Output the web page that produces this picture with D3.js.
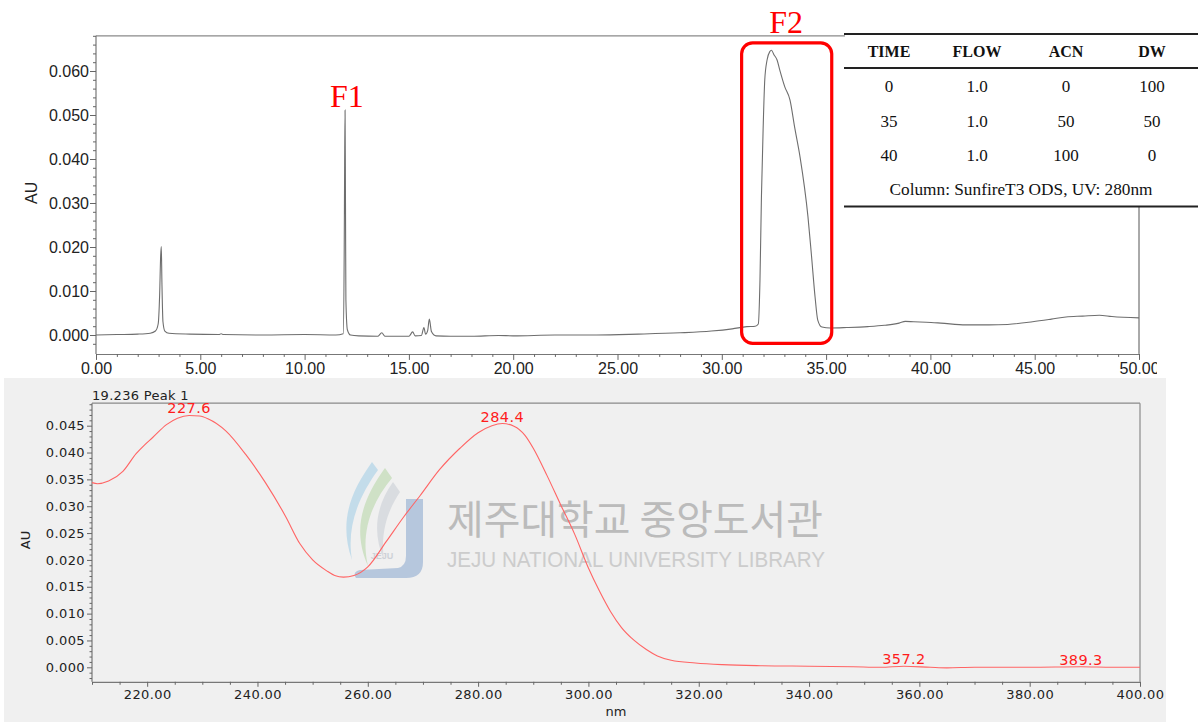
<!DOCTYPE html>
<html><head><meta charset="utf-8">
<script src="https://cdn.jsdelivr.net/npm/d3@7"></script>
<style>
body{margin:0;background:#fff;}
svg{display:block;}
</style></head><body>
<svg id="c" width="1198" height="722"></svg>
<script>
// ---------- DATA ----------
const chromTime = [0,1,2,2.6,2.85,2.98,3.05,3.10,3.13,3.16,
  3.21,3.3,3.5,4.5,5.9,6.0,6.1,8,10,11.5,
  11.85,11.9,11.92,11.94,11.96,11.98,12.05,12.2,12.6,13.5,
  13.7,13.85,15.0,15.18,15.3,15.6,15.72,15.8,15.9,15.98,
  16.08,16.3,17,18,19.3,20,22,24,26,28,
  29.5,30.5,31.2,31.6,31.75,31.83,31.9,31.98,32.06,32.17,
  32.3,32.38,32.5,32.65,32.78,33.02,33.27,33.5,33.75,34.13,
  34.3,34.47,34.6,34.8,35.2,36,37,37.8,38.5,38.8,
  39.2,39.8,40.5,41.7,42.8,43.7,44.9,45.8,46.5,47.3,
  48.1,48.7,50];
const chromAU = [0.0000,0.0001,0.0002,0.0004,0.0009,0.0025,0.0090,0.0180,0.0201,0.0120,
  0.0030,0.0009,0.0004,0.0002,0.0001,0.0003,0.0001,0.0000,0.0001,0.0000,
  0.0003,0.0200,0.0386,0.0511,0.0300,0.0080,0.0012,0.0000,-0.0002,-0.0003,
  0.0005,-0.0003,-0.0003,0.0007,-0.0002,-0.0001,0.0017,0.0002,0.0010,0.0036,
  0.0008,-0.0002,-0.0003,-0.0003,-0.0001,-0.0002,0.0000,0.0000,0.0002,0.0005,
  0.0009,0.0014,0.0019,0.0020,0.0025,0.0125,0.0314,0.0466,0.0580,0.0625,
  0.0644,0.0647,0.0637,0.0625,0.0602,0.0564,0.0534,0.0470,0.0405,0.0269,
  0.0180,0.0087,0.0034,0.0018,0.0016,0.0017,0.0019,0.0022,0.0027,0.0031,
  0.0030,0.0029,0.0027,0.0023,0.0023,0.0024,0.0030,0.0036,0.0041,0.0043,
  0.0045,0.0042,0.0039];

const specNm = [210,211,213,215.6,218,219.5,221,223.5,225.5,227.6,
  229.5,231,234.3,237.9,241.5,245.1,247.7,250,252.5,254,
  255.6,257.5,260,263.4,266.5,269.5,273,276.7,280,282.5,
  284.4,286.5,288.5,290,292.5,295,297.5,300,302,304,
  306,308.3,310.5,312.5,315,319.4,324.3,331.2,340,348,
  353,357.2,362,365,370,380,389.3,395,400];
const specAU = [0.0344,0.0342,0.0347,0.0365,0.0398,0.0414,0.0428,0.0452,0.0464,0.0469,
  0.0468,0.0463,0.0440,0.0396,0.0343,0.0281,0.0230,0.0200,0.0180,0.0171,
  0.0168,0.0171,0.0187,0.0235,0.0280,0.0320,0.0368,0.0408,0.0437,0.0450,
  0.0454,0.0449,0.0432,0.0408,0.0357,0.0302,0.0248,0.0185,0.0142,0.0104,
  0.0074,0.0050,0.0033,0.0021,0.0013,0.0008,0.0005,0.0003,0.0002,0.0001,
  0.0000,0.0002,0.0000,-0.0001,0.0000,0.0000,0.0001,0.0000,0.0000];

const peakNm = [227.6, 284.4, 357.2, 389.3];
const peakAU = [0.0469, 0.0454, 0.0002, 0.0001];

const topXTicks = [0,5,10,15,20,25,30,35,40,45,50];
const topYTicks = [0,0.01,0.02,0.03,0.04,0.05,0.06];
const botXTicks = [220,240,260,280,300,320,340,360,380,400];
const botYTicks = [0,0.005,0.01,0.015,0.02,0.025,0.03,0.035,0.04,0.045];

const fractionLabels = ["F1","F2"];
const fractionTime = [12.03, 33.08];
const fractionAU = [0.0518, 0.0686];
const f2BoxTime = [30.95, 35.27];
const f2BoxAU = [-0.0019, 0.0664];

const tableHeader = ["TIME","FLOW","ACN","DW"];
const tableRows = [["0","1.0","0","100"],["35","1.0","50","50"],["40","1.0","100","0"]];
const tableNote = "Column: SunfireT3 ODS, UV: 280nm";
const spectrumTitle = "19.236 Peak 1";

// ---------- DRAW ----------
const svg = d3.select("#c");
const defs = svg.append("defs");
defs.append("clipPath").attr("id","topclip").append("rect").attr("x",0).attr("y",0).attr("width",1157).attr("height",380);

// ===== TOP CHART =====
const xT = d3.scaleLinear().domain([0,50]).range([96,1139]);
const yT = d3.scaleLinear().domain([0,0.06]).range([335,71]);
const tTop = yT(0.068), tBot = yT(-0.0043);
const gTop = svg.append("g");

gTop.append("line").attr("x1",xT(0)).attr("x2",xT(50)).attr("y1",tTop).attr("y2",tTop).attr("stroke","#8a8a8a").attr("stroke-width",1.2);
gTop.append("line").attr("x1",xT(50)).attr("x2",xT(50)).attr("y1",tTop).attr("y2",tBot).attr("stroke","#555").attr("stroke-width",1);

const minorXT = d3.range(0,51,1).filter(d=>d%5!==0);
const minorYT = d3.range(-2,69,2).map(d=>d/1000).filter(d=>Math.round(d*1000)%10!==0);

const axXT = gTop.append("g").attr("transform",`translate(0,${tBot})`).attr("clip-path","url(#topclip)");
axXT.call(d3.axisBottom(xT).tickValues(topXTicks).tickFormat(d3.format(".2f")).tickSize(6).tickSizeOuter(0).tickPadding(3));
axXT.append("g").call(d3.axisBottom(xT).tickValues(minorXT).tickFormat("").tickSize(3).tickSizeOuter(0)).select(".domain").remove();

const axYT = gTop.append("g").attr("transform",`translate(${xT(0)},0)`);
axYT.call(d3.axisLeft(yT).tickValues(topYTicks).tickFormat(d3.format(".3f")).tickSize(6).tickSizeOuter(0).tickPadding(1));
axYT.select(".domain").attr("d",`M0,${tTop}V${tBot}`);
axYT.append("g").call(d3.axisLeft(yT).tickValues(minorYT).tickFormat("").tickSize(3)).select(".domain").remove();

[axXT, axYT].forEach(g=>{
  g.selectAll("text").attr("font-family","'Liberation Sans',Arial,sans-serif").attr("font-size",16).attr("fill","#222");
  g.selectAll("line").attr("stroke","#666");
  g.selectAll(".domain").attr("stroke","#777").attr("stroke-width",1.2);
});

gTop.append("text").attr("transform",`translate(37,${yT(0.0323)}) rotate(-90)`).attr("text-anchor","middle")
  .attr("font-family","'Liberation Sans',Arial,sans-serif").attr("font-size",16).attr("fill","#222").text("AU");

const chromData = chromTime.map((t,i)=>[t,chromAU[i]]);
gTop.append("path").datum(chromData)
  .attr("d", d3.line().x(d=>xT(d[0])).y(d=>yT(d[1])).curve(d3.curveMonotoneX))
  .attr("fill","none").attr("stroke","#6e6e6e").attr("stroke-width",1.1);

gTop.append("rect").attr("x",xT(f2BoxTime[0])).attr("y",yT(f2BoxAU[1]))
  .attr("width",xT(f2BoxTime[1])-xT(f2BoxTime[0])).attr("height",yT(f2BoxAU[0])-yT(f2BoxAU[1]))
  .attr("rx",11).attr("ry",11).attr("fill","none").attr("stroke","#ff0000").attr("stroke-width",3.2);

gTop.selectAll("text.fr").data(fractionLabels).join("text").attr("class","fr")
  .attr("x",(d,i)=>xT(fractionTime[i])).attr("y",(d,i)=>yT(fractionAU[i]))
  .attr("text-anchor","middle").attr("font-family","'Liberation Serif','Times New Roman',serif")
  .attr("font-size",32).attr("fill","#ff0000").text(d=>d);

// ===== TABLE =====
const tb = svg.append("g");
tb.append("rect").attr("x",845).attr("y",26).attr("width",353).attr("height",181).attr("fill","#fff");
[[34,2],[68,2.2],[206.5,2.2]].forEach(([y,w])=>{
  tb.append("line").attr("x1",844).attr("x2",1198).attr("y1",y).attr("y2",y).attr("stroke","#222").attr("stroke-width",w);
});
const colX = [889,977,1066,1152];
tb.selectAll("text.h").data(tableHeader).join("text").attr("class","h")
  .attr("x",(d,i)=>colX[i]).attr("y",57).attr("text-anchor","middle")
  .attr("font-family","'Liberation Serif','Times New Roman',serif").attr("font-weight","bold")
  .attr("font-size",16).attr("fill","#111").text(d=>d);
tableRows.forEach((row,r)=>{
  tb.selectAll(`text.r${r}`).data(row).join("text").attr("class",`r${r}`)
    .attr("x",(d,i)=>colX[i]).attr("y",92+r*34.5).attr("text-anchor","middle")
    .attr("font-family","'Liberation Serif','Times New Roman',serif")
    .attr("font-size",17).attr("fill","#111").text(d=>d);
});
tb.append("text").attr("x",1021).attr("y",195).attr("text-anchor","middle")
  .attr("font-family","'Liberation Serif','Times New Roman',serif").attr("font-size",16)
  .attr("textLength",263).attr("lengthAdjust","spacingAndGlyphs").attr("fill","#111").text(tableNote);

// ===== BOTTOM CHART =====
const gBot = svg.append("g");
gBot.append("rect").attr("x",4).attr("y",378).attr("width",1162).attr("height",344).attr("fill","#f0f0f0");

const xB = d3.scaleLinear().domain([210,400]).range([92,1140]);
const yB = d3.scaleLinear().domain([0,0.045]).range([667.3,425.7]);
const bTop = yB(0.0492), bBot = yB(-0.0027);

const wm = gBot.append("g").attr("opacity",0.85);
wm.append("path").attr("d","M372,462 C352,490 338,520 352,560 C346,525 360,495 378,470 Z").attr("fill","#bcd9ea");
wm.append("path").attr("d","M385,468 C362,500 352,530 368,566 C360,532 372,502 392,478 Z").attr("fill","#cadfbf");
wm.append("path").attr("d","M393,482 C376,506 372,532 384,560 C380,532 388,510 400,492 Z").attr("fill","#d6d9de");
wm.append("path").attr("d","M406,499 L423,499 L423,562 Q423,578 406,578 L356,578 Q352,572 360,570 L398,568 Q406,566 406,556 Z").attr("fill","#adc0da");
wm.append("text").attr("x",382).attr("y",559).attr("text-anchor","middle").attr("font-family","'Liberation Sans',sans-serif")
  .attr("font-size",9).attr("font-weight","bold").attr("fill","#c8ccd4").text("JEJU");
wm.append("text").attr("x",447).attr("y",534).attr("font-family","'Noto Sans CJK KR',sans-serif").attr("font-size",40)
  .attr("textLength",376).attr("lengthAdjust","spacingAndGlyphs").attr("fill","#b2b2b2").text("제주대학교 중앙도서관");
wm.append("text").attr("x",447).attr("y",567).attr("font-family","'Liberation Sans',sans-serif").attr("font-size",22)
  .attr("textLength",378).attr("lengthAdjust","spacingAndGlyphs").attr("fill","#c6c6c6").text("JEJU NATIONAL UNIVERSITY  LIBRARY");

gBot.append("line").attr("x1",xB(210)).attr("x2",xB(400)).attr("y1",bTop).attr("y2",bTop).attr("stroke","#8a8a8a").attr("stroke-width",1.2);
gBot.append("line").attr("x1",xB(400)).attr("x2",xB(400)).attr("y1",bTop).attr("y2",bBot).attr("stroke","#8a8a8a").attr("stroke-width",1.2);

const minorXB = d3.range(210,401,5).filter(d=>d%20!==0);
const minorYB = d3.range(-2,50,1).map(d=>d/1000).filter(d=>Math.round(d*1000)%5!==0);

const axXB = gBot.append("g").attr("transform",`translate(0,${bBot})`);
axXB.call(d3.axisBottom(xB).tickValues(botXTicks).tickFormat(d3.format(".2f")).tickSize(5).tickSizeOuter(0).tickPadding(3));
axXB.append("g").call(d3.axisBottom(xB).tickValues(minorXB).tickFormat("").tickSize(3).tickSizeOuter(0)).select(".domain").remove();

const axYB = gBot.append("g").attr("transform",`translate(${xB(210)},0)`);
axYB.call(d3.axisLeft(yB).tickValues(botYTicks).tickFormat(d3.format(".3f")).tickSize(5).tickSizeOuter(0).tickPadding(2));
axYB.select(".domain").attr("d",`M0,${bTop}V${bBot}`);
axYB.append("g").call(d3.axisLeft(yB).tickValues(minorYB).tickFormat("").tickSize(2.5)).select(".domain").remove();

[axXB, axYB].forEach(g=>{
  g.selectAll("text").attr("font-family","'DejaVu Sans',sans-serif").attr("font-size",13).attr("letter-spacing",0.4).attr("fill","#222");
  g.selectAll("line").attr("stroke","#666");
  g.selectAll(".domain").attr("stroke","#777").attr("stroke-width",1.2);
});

gBot.append("text").attr("transform",`translate(30,${yB(0.0237)}) rotate(-90)`).attr("text-anchor","middle")
  .attr("font-family","'DejaVu Sans',sans-serif").attr("font-size",13).attr("fill","#222").text("AU");
gBot.append("text").attr("x",616).attr("y",716).attr("text-anchor","middle")
  .attr("font-family","'DejaVu Sans',sans-serif").attr("font-size",13).attr("fill","#222").text("nm");
gBot.append("text").attr("x",xB(210)).attr("y",400)
  .attr("font-family","'DejaVu Sans',sans-serif").attr("font-size",13).attr("letter-spacing",0.3).attr("fill","#222").text(spectrumTitle);

const specData = specNm.map((n,i)=>[n,specAU[i]]);
gBot.append("path").datum(specData)
  .attr("d", d3.line().x(d=>xB(d[0])).y(d=>yB(d[1])).curve(d3.curveMonotoneX))
  .attr("fill","none").attr("stroke","#ff6464").attr("stroke-width",1.1);

gBot.selectAll("text.pk").data(peakNm).join("text").attr("class","pk")
  .attr("x",d=>xB(d)).attr("y",(d,i)=>yB(peakAU[i])-2).attr("text-anchor","middle")
  .attr("font-family","'DejaVu Sans',sans-serif").attr("font-size",14.5).attr("letter-spacing",0.4)
  .attr("fill","#ff1c1c").text(d=>d3.format(".1f")(d));
</script>
</body></html>
